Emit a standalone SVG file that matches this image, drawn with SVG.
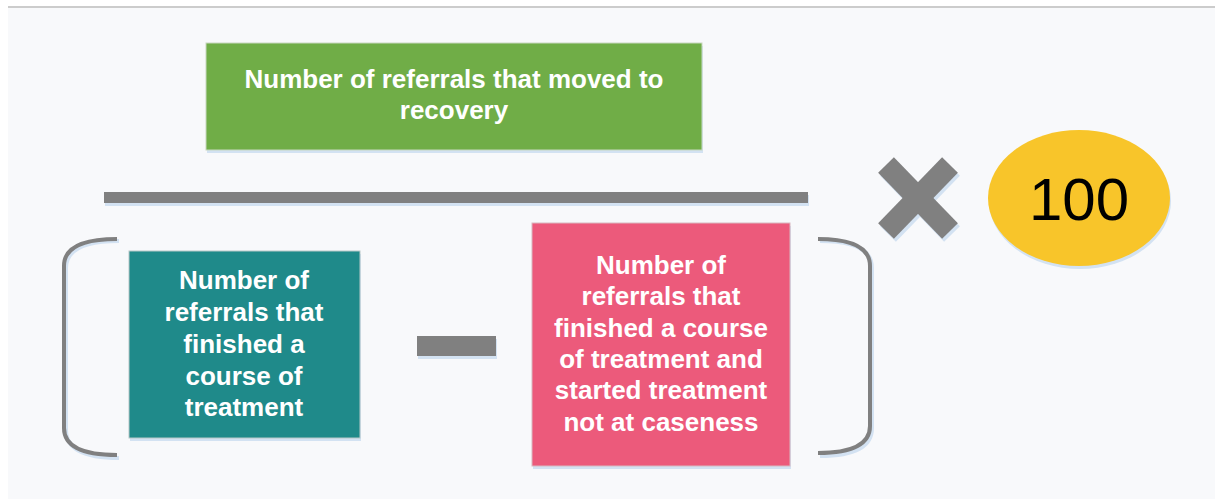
<svg xmlns="http://www.w3.org/2000/svg" width="1215" height="499" viewBox="0 0 1215 499">
<style>
.t{font-family:"Liberation Sans",Arial,sans-serif;font-weight:bold;font-size:26px;fill:#ffffff;text-anchor:middle}
.sh{fill:#d3e2f2}
.br{fill:none;stroke:#808080;stroke-width:4}
.brs{fill:none;stroke:#d3e2f2;stroke-width:4}
.xa{stroke:#808080;stroke-width:22;stroke-linecap:butt}
.xs{stroke:#d3e2f2;stroke-width:22;stroke-linecap:butt}
</style>
<rect x="0" y="0" width="1215" height="499" fill="#ffffff"/>
<rect x="8" y="8" width="1207" height="491" fill="#f8f9fb"/>
<rect x="8" y="6" width="1207" height="2" fill="#cccccc"/>
<g id="numerator">
<rect x="207" y="46" width="496" height="107" class="sh"/>
<rect x="206" y="43" width="496" height="107" fill="#70ad47" stroke="#c8d8c0" stroke-width="1"/>
<text class="t" x="454" y="88">Number of referrals that moved to</text>
<text class="t" x="454" y="119">recovery</text>
</g>
<g id="fraction-bar">
<rect x="105" y="195" width="704" height="11" class="sh"/>
<rect x="104" y="192" width="704" height="11" fill="#808080"/>
</g>
<g id="times">
<line x1="888" y1="168" x2="952" y2="234" class="xs"/>
<line x1="952" y1="168" x2="888" y2="234" class="xs"/>
<line x1="886" y1="165" x2="950" y2="231" class="xa"/>
<line x1="950" y1="165" x2="886" y2="231" class="xa"/>
</g>
<g id="hundred">
<ellipse cx="1080" cy="201" rx="91" ry="68" fill="#d3e2f2"/>
<ellipse cx="1079" cy="198" rx="91" ry="68" fill="#f8c52a"/>
<text x="1079" y="220" font-family="Liberation Sans,Arial,sans-serif" font-size="60" fill="#000000" text-anchor="middle">100</text>
</g>
<g id="left-bracket">
<path d="M119 241 Q66 241 66 268 L66 430 Q66 458 119 458" class="brs"/>
<path d="M117 239 Q64 239 64 266 L64 428 Q64 455 117 455" class="br"/>
</g>
<g id="finished">
<rect x="130" y="254" width="231" height="187" class="sh"/>
<rect x="129" y="251" width="231" height="187" fill="#1f8a8a" stroke="#b8c8c8" stroke-width="1"/>
<text class="t" x="244" y="289">Number of</text>
<text class="t" x="244" y="321">referrals that</text>
<text class="t" x="244" y="353">finished a</text>
<text class="t" x="244" y="385">course of</text>
<text class="t" x="244" y="416">treatment</text>
</g>
<g id="minus">
<rect x="418" y="339" width="79" height="20" class="sh"/>
<rect x="417" y="336" width="79" height="20" fill="#808080"/>
</g>
<g id="not-caseness">
<rect x="533" y="226" width="258" height="243" class="sh"/>
<rect x="532" y="223" width="258" height="243" fill="#ec5a7b" stroke="#d8b8c0" stroke-width="1"/>
<text class="t" x="661" y="274">Number of</text>
<text class="t" x="661" y="305">referrals that</text>
<text class="t" x="661" y="337">finished a course</text>
<text class="t" x="661" y="368">of treatment and</text>
<text class="t" x="661" y="399">started treatment</text>
<text class="t" x="661" y="431">not at caseness</text>
</g>
<g id="right-bracket">
<path d="M820 241 Q872 241 872 268 L872 428 Q872 456 820 456" class="brs"/>
<path d="M818 239 Q870 239 870 266 L870 426 Q870 453 818 453" class="br"/>
</g>
</svg>
